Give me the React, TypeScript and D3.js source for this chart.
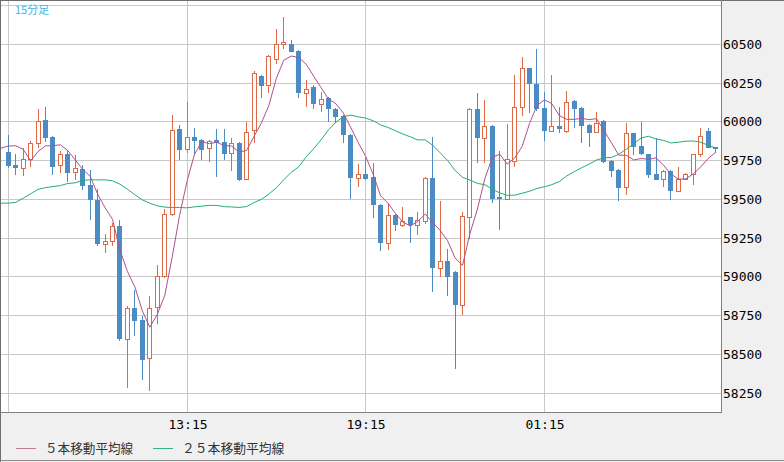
import React from 'react';
import * as d3 from 'd3';

// 15-minute candles, 07:15 -> 07:00 next day
const opens = [
  59806, 59722, 59705, 59759, 59862, 60012, 59902, 59720, 59791, 59675, 59697, 59594,
  59497, 59213, 59232, 59330, 58602, 58797, 58720, 58480, 58808, 59005, 59405, 59954,
  59823, 59900, 59883, 59830, 59883, 59870, 59798, 59866, 59630, 59947, 60294, 60236,
  60408, 60500, 60500, 60455, 60183, 60222, 60112, 60151, 60082, 60037, 59915, 59641,
  59663, 59643, 59465, 59219, 59401, 59332, 59384, 59332, 59358, 59637, 59056, 59105,
  59035, 58818, 59384, 60080, 59898, 59973, 59515, 59502, 59748, 60097, 60344, 60247,
  60089, 59943, 59973, 59943, 60134, 60089, 59979, 59933, 60007, 59748, 59690, 59579,
  59926, 59845, 59791, 59665, 59630, 59686, 59555, 59630, 59663, 59791, 59941, 59836,
];
const highs = [
  59915, 59793, 59830, 59879, 60082, 60097, 59909, 59812, 59819, 59787, 59722, 59690,
  59566, 59279, 59351, 59369, 58810, 58919, 58747, 58876, 59078, 59440, 60044, 59979,
  60129, 59962, 59889, 59883, 59954, 59954, 59894, 59870, 60001, 60326, 60301, 60429,
  60601, 60674, 60526, 60461, 60273, 60236, 60193, 60161, 60087, 60044, 59922, 59729,
  59765, 59737, 59472, 59480, 59407, 59454, 59388, 59422, 59645, 59904, 59491, 59181,
  59041, 59416, 60089, 60187, 60140, 59979, 59812, 59986, 60301, 60418, 60350, 60468,
  60193, 60299, 60097, 60198, 60140, 60095, 59986, 60065, 60012, 59751, 59693, 59990,
  59931, 60001, 59793, 59894, 59690, 59690, 59711, 59673, 59793, 59958, 59958, 59838,
];
const lows = [
  59703, 59658, 59652, 59707, 59830, 59872, 59658, 59669, 59615, 59626, 59562, 59369,
  59197, 59155, 59197, 58587, 58287, 58619, 58336, 58265, 58696, 58995, 59396, 59754,
  59801, 59787, 59754, 59744, 59647, 59754, 59686, 59620, 59626, 59866, 60157, 60183,
  60376, 60472, 60449, 60157, 60097, 60080, 60065, 60001, 59994, 59866, 59502, 59579,
  59626, 59380, 59165, 59172, 59294, 59319, 59219, 59272, 59343, 58902, 58998, 58876,
  58405, 58752, 59247, 59737, 59737, 59476, 59300, 59497, 59711, 60037, 60055, 60069,
  59879, 59941, 59930, 59930, 59958, 59866, 59840, 59928, 59737, 59647, 59491, 59530,
  59787, 59787, 59637, 59626, 59583, 59497, 59551, 59626, 59594, 59776, 59829, 59801,
];
const closes = [
  59716, 59705, 59759, 59862, 60003, 59898, 59708, 59791, 59673, 59701, 59589, 59493,
  59213, 59234, 59330, 58598, 58801, 58715, 58465, 58801, 59007, 59407, 59947, 59819,
  59900, 59879, 59819, 59879, 59866, 59793, 59862, 59626, 59932, 60318, 60230, 60427,
  60500, 60513, 60451, 60183, 60215, 60112, 60145, 60080, 60033, 59915, 59641, 59663,
  59632, 59461, 59219, 59401, 59332, 59358, 59332, 59369, 59637, 59056, 59105, 58998,
  58818, 59395, 60080, 59898, 59975, 59504, 59502, 59759, 60093, 60344, 60247, 60082,
  59943, 59973, 59956, 60127, 60082, 59975, 59930, 59990, 59744, 59686, 59576, 59926,
  59840, 59791, 59658, 59626, 59686, 59555, 59630, 59663, 59791, 59909, 59830, 59823,
];
// moving average values before enough candles are on screen (from the bar before the first)
const ma5Head = [59830, 59844, 59846, 59823, 59749];
const ma25Head = [
  59476, 59476, 59481, 59508, 59536, 59565, 59576, 59583, 59589, 59603, 59607, 59623,
  59626, 59626, 59626, 59620, 59598, 59566, 59530, 59497, 59476, 59459, 59450, 59448, 59448,
];
const priceTicks = [58250, 58500, 58750, 59000, 59250, 59500, 59750, 60000, 60250, 60500];
const gridPrices = [...priceTicks, 60750];
const timeTickIndex = [24, 48, 72];
const timeTickLabels = ['13:15', '19:15', '01:15'];
const gridIndex = [0, 24, 48, 72];
const legendNames = ['５本移動平均線', '２５本移動平均線'];

const W = 784;
const H = 462;
const plotRight = 721;
const plotBottom = 412;
const UP = '#dc6a45';
const DOWN = '#4b8cc4';
const MA5 = '#b0508a';
const MA25 = '#22b06c';

function movingAvg(n: number, head: number[]) {
  const out: number[] = [];
  for (let i = -1; i < closes.length; i++) {
    if (i < n - 1) out.push(head[i + 1]);
    else out.push(d3.mean(closes.slice(i - n + 1, i + 1)) as number);
  }
  return out;
}

const App: React.FC = () => {
  const x = d3.scaleLinear().domain([0, 96]).range([8.3, 8.3 + 96 * 7.446]);
  const y = d3.scaleLinear().domain([58250, 60500]).range([393.3, 44.3]);

  const ma5 = movingAvg(5, ma5Head);
  const ma25 = movingAvg(25, ma25Head);
  const line = d3
    .line<number>()
    .x((_, k) => x(k - 1))
    .y((d) => y(d));

  const sans = 'DejaVu Sans Mono, monospace';
  const cjk = '"Noto Sans CJK JP", sans-serif';

  return (
    <>
      <style>{'body{margin:0}'}</style>
      <svg width={W} height={H} style={{ display: 'block' }}>
        <defs>
          <clipPath id="plot">
            <rect x={1} y={1} width={plotRight - 1} height={plotBottom - 1} />
          </clipPath>
        </defs>
        <rect x={0} y={0} width={W} height={H} fill="#f0f0f0" />
        <rect x={1} y={1} width={plotRight - 1} height={plotBottom - 1} fill="#fff" />

        <g clipPath="url(#plot)">
          {gridPrices.map((p) => {
            const gy = Math.floor(y(p)) + 0.5;
            return <line key={p} x1={1} x2={plotRight} y1={gy} y2={gy} stroke="#c8c8c8" />;
          })}
          {gridIndex.map((i) => {
            const gx = Math.floor(x(i)) + 0.5;
            return <line key={i} x1={gx} x2={gx} y1={1} y2={plotBottom} stroke="#c8c8c8" />;
          })}

          {closes.map((c, i) => {
            const o = opens[i];
            const cx = Math.floor(x(i));
            const top = Math.round(y(Math.max(o, c)));
            const bot = Math.round(y(Math.min(o, c)));
            const hi = Math.round(y(highs[i]));
            const lo = Math.round(y(lows[i]));
            const up = c >= o;
            const col = up ? UP : DOWN;
            return (
              <g key={i}>
                <line x1={cx + 0.5} x2={cx + 0.5} y1={hi} y2={lo} stroke={col} />
                {up ? (
                  <rect
                    x={cx - 1.5}
                    y={top + 0.5}
                    width={4}
                    height={Math.max(1, bot - top)}
                    fill="#fff"
                    stroke={col}
                  />
                ) : (
                  <rect x={cx - 2} y={top} width={5} height={Math.max(1, bot - top)} fill={col} />
                )}
              </g>
            );
          })}

          <path d={line(ma25) || ''} fill="none" stroke={MA25} strokeWidth={1} />
          <path d={line(ma5) || ''} fill="none" stroke={MA5} strokeWidth={1} />

          <text x={15} y={14} fontFamily={cjk} fontSize={11} fill="#3db5e6">
            15分足
          </text>
        </g>

        <line x1={0.5} x2={0.5} y1={0} y2={H} stroke="#6e6e6e" />
        <line x1={0} x2={W} y1={0.5} y2={0.5} stroke="#6e6e6e" />
        <line x1={plotRight + 0.5} x2={plotRight + 0.5} y1={0} y2={plotBottom + 1} stroke="#808080" />
        <line x1={0} x2={plotRight + 1} y1={plotBottom + 0.5} y2={plotBottom + 0.5} stroke="#808080" />
        <line x1={0} x2={W} y1={H - 1.5} y2={H - 1.5} stroke="#8a8a8a" />

        {priceTicks.map((p) => (
          <text key={p} x={723} y={Math.floor(y(p)) + 4.5} fontFamily={sans} fontSize={13} fill="#000">
            {p}
          </text>
        ))}
        {timeTickIndex.map((i, k) => (
          <text
            key={i}
            x={Math.floor(x(i)) + 1}
            y={429}
            textAnchor="middle"
            fontFamily={sans}
            fontSize={13}
            fill="#000"
          >
            {timeTickLabels[k]}
          </text>
        ))}

        <line x1={16} x2={36} y1={448.5} y2={448.5} stroke="#c27a9c" />
        <text x={45} y={453} fontFamily={cjk} fontSize={12.6} fill="#333">
          {legendNames[0]}
        </text>
        <line x1={153} x2={173} y1={448.5} y2={448.5} stroke="#3ab482" />
        <text x={182} y={453} fontFamily={cjk} fontSize={12.8} fill="#333">
          {legendNames[1]}
        </text>
      </svg>
    </>
  );
};

export default App;
